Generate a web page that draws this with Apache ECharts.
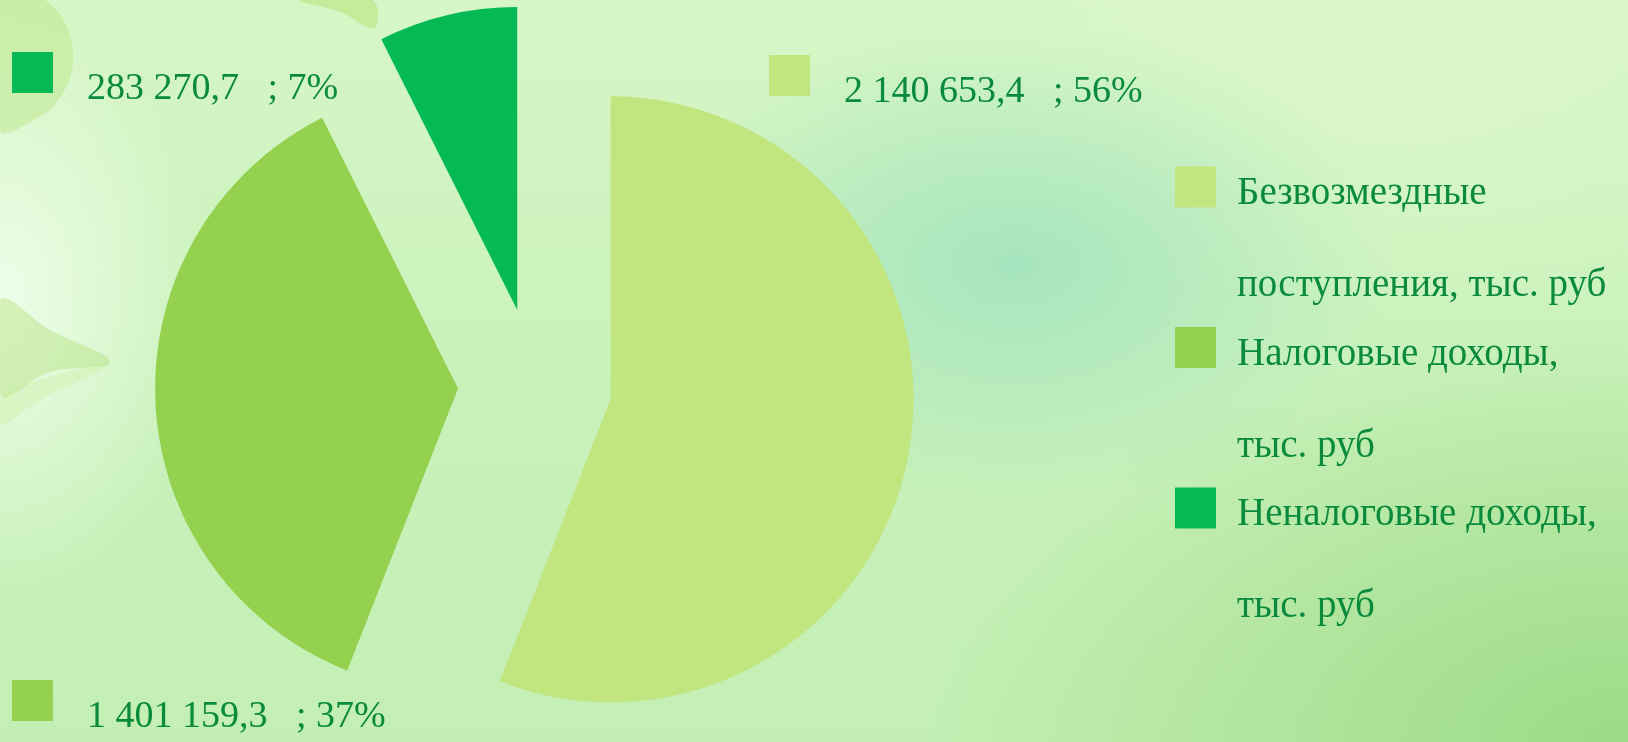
<!DOCTYPE html>
<html lang="ru">
<head>
    <meta charset="UTF-8">
    <title>Доходы</title>
    <script src="https://cdn.jsdelivr.net/npm/echarts@6/dist/echarts.min.js"></script>
    <style>
        html, body { margin: 0; padding: 0; }
        body {
            width: 1628px; height: 742px; overflow: hidden;
            background:
                radial-gradient(ellipse 210px 300px at 0px 300px, rgba(240,255,236,0.95), rgba(240,255,236,0) 100%),
                radial-gradient(ellipse 380px 240px at 1015px 265px, rgba(164,228,190,0.95), rgba(164,228,190,0) 100%),
                radial-gradient(ellipse 700px 420px at 1628px 742px, rgba(152,216,128,0.9), rgba(152,216,128,0) 100%),
                radial-gradient(ellipse 500px 260px at 1400px 60px, rgba(220,248,200,0.9), rgba(220,248,200,0) 100%),
                linear-gradient(180deg, #d6f6c6 0%, #c8f1ba 55%, #c3efb4 100%);
        }
        #main { width: 1628px; height: 742px; }
    </style>
</head>
<body>
<div id="main"></div>
<script>
    // данные
    var categories = [
        'Безвозмездные\nпоступления, тыс. руб',
        'Налоговые доходы,\nтыс. руб',
        'Неналоговые доходы,\nтыс. руб'
    ];
    var values = [2140653.4, 1401159.3, 283270.7];
    var colors = ['#c1e57f', '#93d14f', '#05ba55'];

    // где стоят подписи (левый верхний угол квадратика)
    var labelPos = [[769, 55], [12, 680], [12, 52]];

    var textColor = '#0a8a3c';
    var fontName = '"Liberation Serif", serif';

    function fmt(v) {
        var p = v.toFixed(1).split('.');
        return p[0].replace(/\B(?=(\d{3})+(?!\d))/g, ' ') + ',' + p[1];
    }

    var myChart = echarts.init(document.getElementById('main'));

    var rich = {
        t: {
            fontSize: 38, lineHeight: 76, color: textColor, fontFamily: fontName,
            verticalAlign: 'top', padding: [18, 0, 0, 34]
        }
    };
    colors.forEach(function (c, i) {
        rich['i' + i] = { width: 41, height: 41, backgroundColor: c, verticalAlign: 'top' };
    });

    // сам пирог, все доли выдвинуты
    var pieData = values.map(function (v, i) {
        return { name: categories[i], value: v, selected: true, itemStyle: { color: colors[i] } };
    });
    // те же данные, прозрачные — только для подписей
    var labelData = values.map(function (v, i) {
        return { name: categories[i], value: v };
    });

    // листья на фоне
    function leaf(points, fill) {
        return { type: 'polygon', z: 0, silent: true, shape: { points: points, smooth: 0.4 }, style: { fill: fill } };
    }

    var option = {
        animation: false,
        backgroundColor: 'transparent',
        graphic: [
            leaf([[0, 0], [45, 0], [72, 45], [62, 95], [25, 125], [0, 130]], 'rgba(176,224,110,0.35)'),
            leaf([[300, 0], [372, 0], [374, 28], [340, 12]], 'rgba(176,224,100,0.45)'),
            leaf([[0, 300], [50, 330], [110, 362], [50, 372], [0, 395]], 'rgba(176,222,118,0.4)'),
            leaf([[0, 398], [60, 374], [110, 364], [40, 400], [0, 425]], 'rgba(200,235,150,0.3)')
        ],
        legend: {
            orient: 'vertical',
            left: 1175,
            top: 42,
            padding: 0,
            icon: 'rect',
            itemWidth: 41,
            itemHeight: 41,
            itemGap: -103,
            selectedMode: false,
            data: categories,
            formatter: function (name) {
                return '{a|}\n' + name.split('\n').map(function (s) { return '{b|' + s + '}'; }).join('\n');
            },
            textStyle: {
                rich: {
                    a: { lineHeight: 106, height: 106, width: 1 },
                    b: {
                        fontSize: 39, lineHeight: 92, color: textColor, fontFamily: fontName,
                        padding: [0, 0, 0, 16]
                    }
                }
            }
        },
        series: [
            {
                type: 'pie',
                center: [535, 385],
                radius: 303,
                startAngle: 90,
                clockwise: true,
                selectedMode: 'multiple',
                selectedOffset: 77,
                emphasis: { scale: false },
                silent: true,
                label: { show: false },
                labelLine: { show: false },
                data: pieData
            },
            {
                type: 'pie',
                center: [535, 385],
                radius: 303,
                startAngle: 90,
                clockwise: true,
                silent: true,
                avoidLabelOverlap: false,
                emphasis: { scale: false },
                itemStyle: { color: 'rgba(0,0,0,0)' },
                label: {
                    show: true,
                    formatter: function (p) {
                        return '{i' + p.dataIndex + '|}{t|' + fmt(p.value) + '   ; ' + Math.round(p.percent) + '%}';
                    },
                    rich: rich
                },
                labelLine: { show: false },
                labelLayout: function (p) {
                    var xy = labelPos[p.dataIndex];
                    return { x: xy[0], y: xy[1], align: 'left', verticalAlign: 'top' };
                },
                data: labelData
            }
        ]
    };

    myChart.setOption(option);
</script>
</body>
</html>
